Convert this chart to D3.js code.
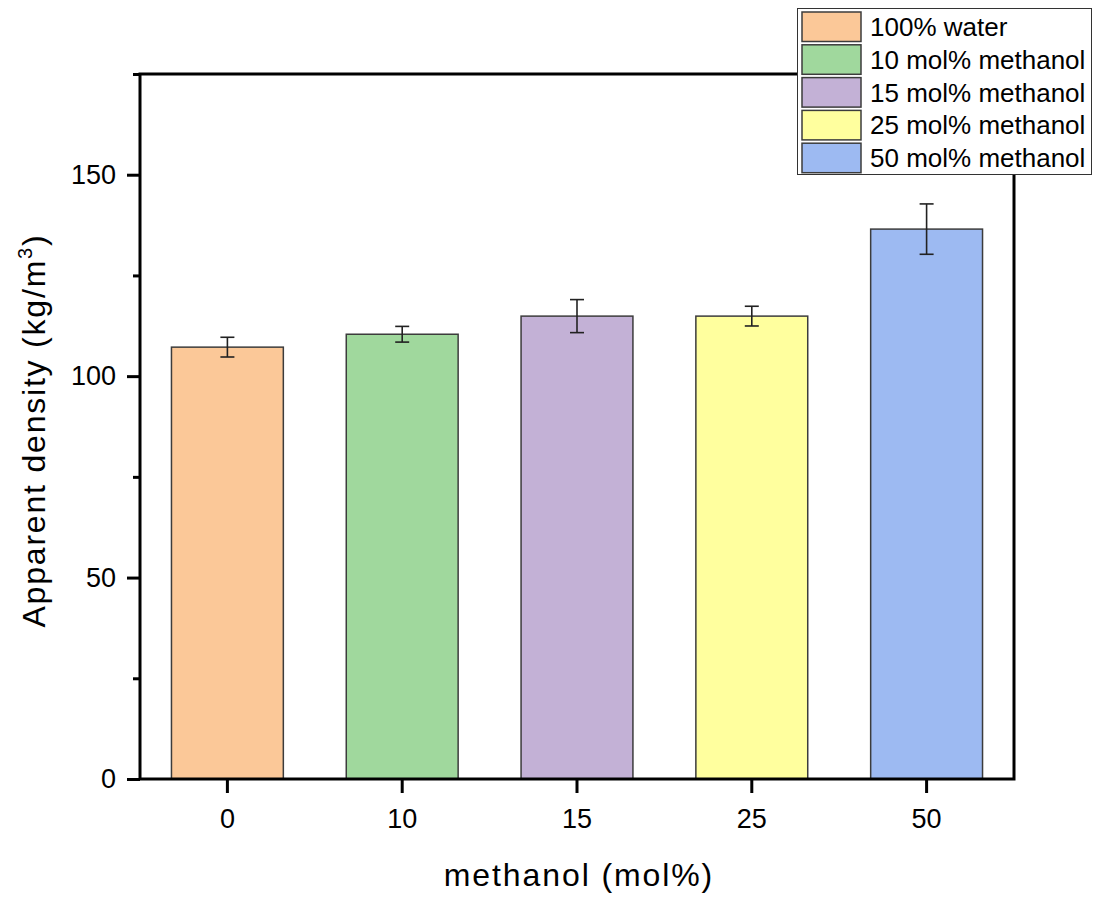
<!DOCTYPE html>
<html>
<head>
<meta charset="utf-8">
<script src="https://cdn.jsdelivr.net/npm/d3@7"></script>
<style>
  html, body { margin: 0; padding: 0; background: #fff; }
  svg { display: block; font-family: Arial, "Liberation Sans", sans-serif; }
</style>
</head>
<body>
<svg id="chart" width="1093" height="897"></svg>
<script>
// Apparent density of samples prepared in different water/methanol mixtures
const categories = ["0", "10", "15", "25", "50"];
const seriesNames = ["100% water", "10 mol% methanol", "15 mol% methanol", "25 mol% methanol", "50 mol% methanol"];
const density = [107.2, 110.4, 114.9, 114.9, 136.5];
const densityErr = [2.45, 1.95, 4.1, 2.45, 6.25];
const barColors = ["#FBC898", "#A0D89D", "#C3B1D6", "#FFFF9E", "#9DBAF2"];
const yMajorTicks = [0, 50, 100, 150];
const yMinorTicks = [25, 75, 125, 175];

const svg = d3.select("#chart");
const margin = { left: 140, right: 1014, top: 74, bottom: 779 };
const FONT = "Arial, 'Liberation Sans', sans-serif";

const x = d3.scaleBand()
  .domain(categories)
  .range([margin.left, margin.right])
  .paddingInner(0.36)
  .paddingOuter(0.18);

const y = d3.scaleLinear()
  .domain([0, 175])
  .range([margin.bottom, margin.top]);

const data = categories.map((c, i) => ({ c, v: density[i], e: densityErr[i], color: barColors[i], name: seriesNames[i] }));

// Bars
svg.append("g")
  .selectAll("rect")
  .data(data)
  .join("rect")
  .attr("x", d => x(d.c))
  .attr("y", d => y(d.v))
  .attr("width", x.bandwidth())
  .attr("height", d => y(0) - y(d.v))
  .attr("fill", d => d.color)
  .attr("stroke", "#3c3c3c")
  .attr("stroke-width", 1.5);

// Error bars
const eb = svg.append("g").attr("stroke", "#222").attr("stroke-width", 1.6).attr("fill", "none");
data.forEach(d => {
  const cx = x(d.c) + x.bandwidth() / 2;
  eb.append("line").attr("x1", cx).attr("x2", cx).attr("y1", y(d.v + d.e)).attr("y2", y(d.v - d.e));
  eb.append("line").attr("x1", cx - 7).attr("x2", cx + 7).attr("y1", y(d.v + d.e)).attr("y2", y(d.v + d.e));
  eb.append("line").attr("x1", cx - 7).attr("x2", cx + 7).attr("y1", y(d.v - d.e)).attr("y2", y(d.v - d.e));
});

// Frame
svg.append("rect")
  .attr("x", margin.left).attr("y", margin.top)
  .attr("width", margin.right - margin.left)
  .attr("height", margin.bottom - margin.top)
  .attr("fill", "none").attr("stroke", "#000").attr("stroke-width", 3);

// Y axis
const yAxis = svg.append("g")
  .attr("transform", `translate(${margin.left},0)`)
  .call(d3.axisLeft(y).tickValues(yMajorTicks).tickSize(13).tickPadding(11).tickFormat(d3.format("d")));
yAxis.select(".domain").remove();
yAxis.selectAll(".tick line").attr("stroke", "#000").attr("stroke-width", 3);
yAxis.selectAll(".tick text").attr("font-size", 27).attr("fill", "#000").attr("font-family", FONT);

const yMinor = svg.append("g")
  .attr("transform", `translate(${margin.left},0)`)
  .call(d3.axisLeft(y).tickValues(yMinorTicks).tickSize(7).tickFormat(""));
yMinor.select(".domain").remove();
yMinor.selectAll(".tick line").attr("stroke", "#000").attr("stroke-width", 3);

// X axis
const xAxis = svg.append("g")
  .attr("transform", `translate(0,${margin.bottom})`)
  .call(d3.axisBottom(x).tickSize(14).tickPadding(16));
xAxis.select(".domain").remove();
xAxis.selectAll(".tick line").attr("stroke", "#000").attr("stroke-width", 3);
xAxis.selectAll(".tick text").attr("font-size", 27).attr("fill", "#000").attr("font-family", FONT);

// Axis titles
svg.append("text")
  .attr("x", (margin.left + margin.right) / 2 + 2)
  .attr("y", 886)
  .attr("text-anchor", "middle")
  .attr("font-size", 32)
  .attr("letter-spacing", 1.9)
  .text("methanol (mol%)");

const yt = svg.append("text")
  .attr("transform", `translate(45,${(margin.top + margin.bottom) / 2 + 4}) rotate(-90)`)
  .attr("text-anchor", "middle")
  .attr("font-size", 32)
  .attr("letter-spacing", 1.8);
yt.append("tspan").text("Apparent density (kg/m");
yt.append("tspan").attr("font-size", 20).attr("dy", -13).text("3");
yt.append("tspan").attr("dy", 13).text(")");

// Legend
const legend = svg.append("g");
legend.append("rect")
  .attr("x", 797.5).attr("y", 8.5).attr("width", 294).attr("height", 166)
  .attr("fill", "#fff").attr("stroke", "#333").attr("stroke-width", 1);
data.forEach((d, i) => {
  const ry = 12 + i * 32.8;
  legend.append("rect")
    .attr("x", 802).attr("y", ry).attr("width", 59).attr("height", 29.5)
    .attr("fill", d.color).attr("stroke", "#3c3c3c").attr("stroke-width", 1.5);
  legend.append("text")
    .attr("x", 870).attr("y", ry + 24)
    .attr("font-size", 26)
    .text(d.name);
});
</script>
</body>
</html>
